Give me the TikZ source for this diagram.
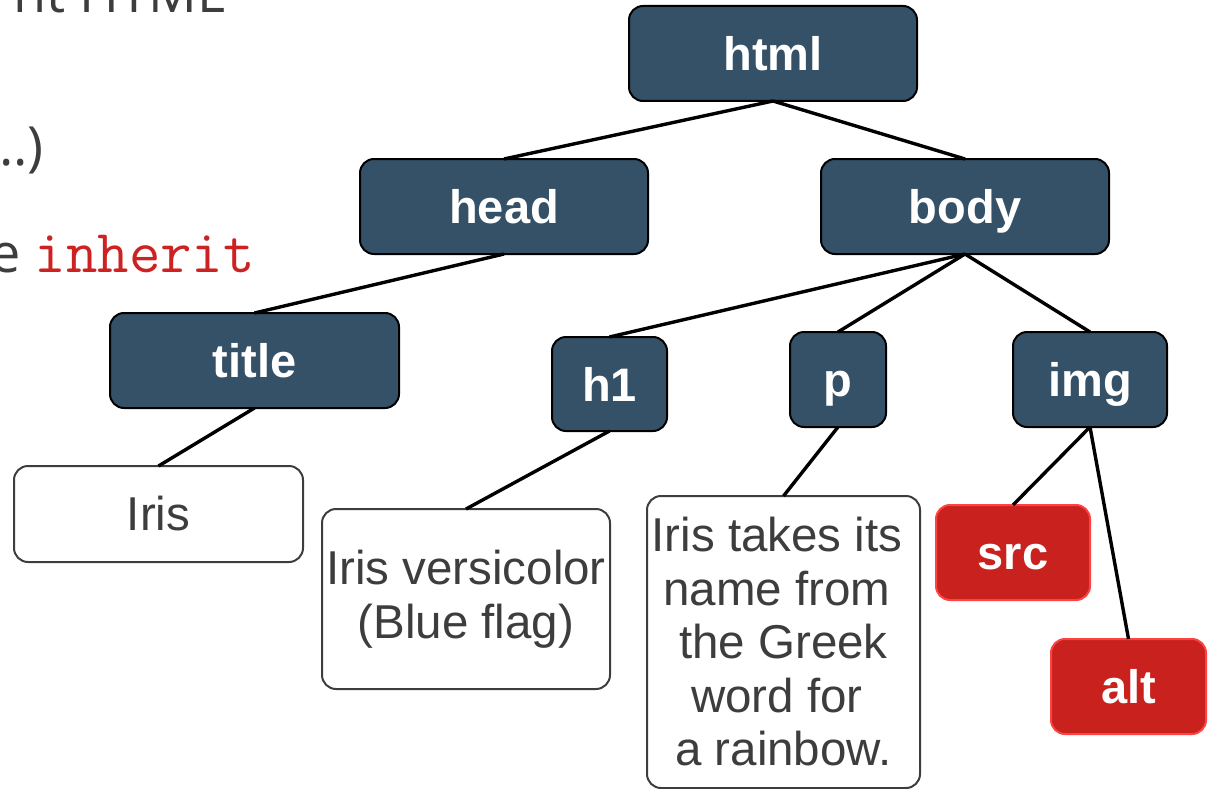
\documentclass[tikz,border=0pt]{standalone}
\usepackage{fontspec}
\setmainfont{Liberation Sans}
\newfontfamily\slidefont{Open Sans}
\definecolor{tagblue}{HTML}{355168}
\definecolor{attrred}{HTML}{C9211E}
\definecolor{attredge}{HTML}{FF4242}
\definecolor{inkgray}{HTML}{3D3D3D}
\definecolor{codered}{HTML}{CC2222}
\newcommand\tsp{\kern0.278em}
\tikzset{
  treebox/.style={rounded corners=14pt, outer sep=0pt, inner sep=0pt,
    minimum height=95, line width=2pt},
  tag/.style={treebox, draw=black, fill=tagblue, text=white,
    text height=34pt, text depth=0pt,
    font=\bfseries\fontsize{47}{54}\selectfont},
  attr/.style={tag, draw=attredge, fill=attrred},
  leaf/.style={treebox, draw=inkgray, fill=white, text=inkgray, align=center,
    font=\fontsize{47.5}{53.5}\selectfont},
  edge/.style={line width=3.4pt, black},
  slidetext/.style={anchor=base east, text=inkgray, inner sep=0pt,
    font=\slidefont\fontsize{54}{60}\selectfont}
}
\begin{document}
\begin{tikzpicture}[x=1pt,y=-1pt]
\useasboundingbox (0,0) rectangle (1212,789);
\clip (0,0) rectangle (1212,789);

% surrounding slide text
\node[slidetext] (line1) at (226,13) {nt HTML};
\node[slidetext] (line2) at (44,165) {..)};
\node[slidetext] (line3) at (255,272)
  {e \textcolor{codered}{\fontsize{61}{66}\selectfont\ttfamily inherit}};

% element nodes
\node[tag, minimum width=288] (html) at (773,53.5) {html};
\node[tag, minimum width=288] (head) at (504,206.5) {head};
\node[tag, minimum width=288] (body) at (965,206.5) {body};
\node[tag, minimum width=289] (title) at (254.5,360.5) {title};
\node[tag, minimum width=115, minimum height=94] (h1) at (609.5,384) {h1};
\node[tag, minimum width=96] (p) at (838,379.5) {p};
\node[tag, minimum width=154] (img) at (1090,379.5) {img};

% attribute nodes
\node[attr, minimum width=154] (src) at (1013,552.5) {src};
\node[attr, minimum width=155] (alt) at (1128.5,686.5) {alt};

% text nodes
\node[leaf, minimum width=289, minimum height=96] (iris) at (158.5,514) {Iris};
\node[leaf, minimum width=288, minimum height=180] (h1text) at (466,599)
  {Iris versicolor\\(Blue flag)};
\node[leaf, minimum width=273, minimum height=292] (ptext) at (783.5,642)
  {Iris takes its\tsp\\name from\tsp\\the Greek\\word for\tsp\\a rainbow.};

% tree edges
\draw[edge] (html.south) -- (head.north);
\draw[edge] (html.south) -- (body.north);
\draw[edge] (head.south) -- (title.north);
\draw[edge] (body.south) -- (h1.north);
\draw[edge] (body.south) -- (p.north);
\draw[edge] (body.south) -- (img.north);
\draw[edge] (title.south) -- (iris.north);
\draw[edge] (h1.south) -- (h1text.north);
\draw[edge] (p.south) -- (ptext.north);
\draw[edge] (img.south) -- (src.north);
\draw[edge] (img.south) -- (alt.north);
\end{tikzpicture}
\end{document}
